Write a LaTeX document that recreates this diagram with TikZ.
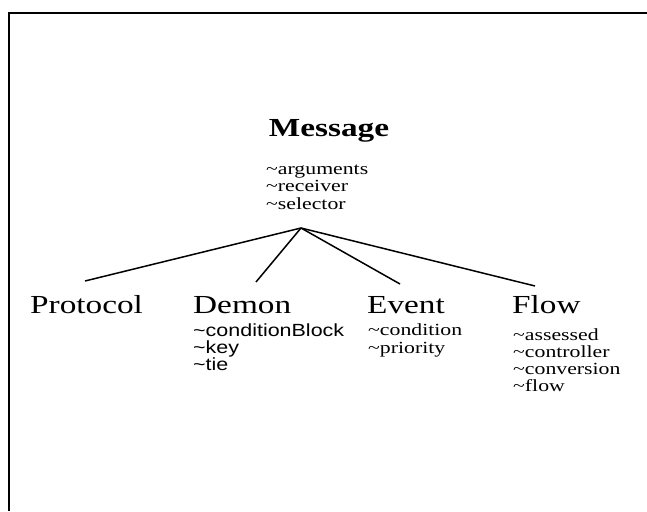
\documentclass[tikz,border=0pt]{standalone}
\usepackage{fontspec}
\setmainfont[FakeStretch=1.28]{Liberation Serif}
\newfontfamily\attrsans[FakeStretch=1.22]{Liberation Sans}
\begin{document}
\begin{tikzpicture}[x=1pt,y=-1pt,
  cls/.style={inner sep=0pt,anchor=base west,font=\fontsize{26}{28}\selectfont},
  attrs/.style={inner sep=0pt,anchor=north west,align=left,font=\fontsize{17}{17.2}\selectfont},
  link/.style={line width=1.5pt}]
\useasboundingbox (0,0) rectangle (647,511);
\draw[line width=1.2pt] (9,511) -- (9,13) -- (647,13);
\node[inner sep=0pt,anchor=base,font=\fontsize{26}{28}\bfseries\selectfont] (msg) at (329,136) {Message};
\node[attrs] (msgattr) at (266,165) {\textasciitilde arguments\\\textasciitilde receiver\\\textasciitilde selector};
\coordinate (apex) at (301,228);
\node[cls] (prot) at (30,313) {Protocol};
\node[cls] (demon) at (193,313) {Demon};
\node[cls] (event) at (367,313) {Event};
\node[cls] (flow) at (512,313) {Flow};
\coordinate (pe) at (85,281);
\coordinate (de) at (256,282);
\coordinate (ee) at (400,284);
\coordinate (fe) at (535,286);
\draw[link] (apex) -- (pe);
\draw[link] (apex) -- (de);
\draw[link] (apex) -- (ee);
\draw[link] (apex) -- (fe);
\node[attrs,font=\attrsans\fontsize{17.6}{16.8}\selectfont] (dattr) at (193,324) {\textasciitilde conditionBlock\\\textasciitilde key\\\textasciitilde tie};
\node[attrs] (eattr) at (368,324) {\textasciitilde condition\\\textasciitilde priority};
\node[attrs] (fattr) at (513,328) {\textasciitilde assessed\\\textasciitilde controller\\\textasciitilde conversion\\\textasciitilde flow};
\end{tikzpicture}
\end{document}
